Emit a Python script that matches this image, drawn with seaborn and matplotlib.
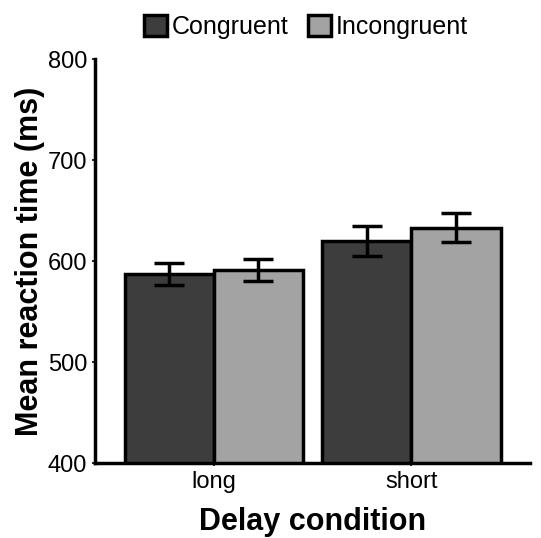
import matplotlib
matplotlib.use("Agg")
import matplotlib.pyplot as plt
import seaborn as sns
import pandas as pd
import numpy as np

delay = ["long", "long", "short", "short"]
congruency = ["Congruent", "Incongruent", "Congruent", "Incongruent"]
mean_rt = [587, 591, 620, 633]
err_rt = [11, 11, 14.5, 14.5]
hue_order = ["Congruent", "Incongruent"]
palette = {"Congruent": "#3d3d3d", "Incongruent": "#a3a3a3"}

df = pd.DataFrame({"delay": delay, "cond": congruency, "rt": mean_rt, "err": err_rt})

sns.set_theme(style="white")
plt.rcParams['font.family'] = ['Liberation Sans', 'DejaVu Sans']
plt.rcParams['text.color'] = 'black'

fig = plt.figure(figsize=(5.41, 5.38), dpi=100)
ax = fig.add_axes([0.1756, 0.1394, 0.8044, 0.7506])

sns.barplot(data=df, x="delay", y="rt", hue="cond", hue_order=hue_order,
            order=["long", "short"], palette=palette, errorbar=None,
            width=0.9, edgecolor="black", linewidth=2.5, ax=ax, saturation=1)

# error bars at bar centers
bars = [p for p in ax.patches if p.get_height() > 0][:4]
lookup = {(r.delay, r.cond): (r.rt, r.err) for r in df.itertuples()}
keys = [("long", "Congruent"), ("short", "Congruent"), ("long", "Incongruent"), ("short", "Incongruent")]
for p, k in zip(bars, keys):
    m, e = lookup[k]
    xc = p.get_x() + p.get_width() / 2
    ax.errorbar(xc, m, yerr=e, fmt="none", ecolor="black", elinewidth=2.5,
                capsize=11, capthick=2.5, zorder=5)

ax.set_ylim(400, 800)
ax.set_xlim(-0.6, 1.6)
ax.set_yticks([400, 500, 600, 700, 800])
ax.set_xlabel("Delay condition", fontsize=22, fontweight="bold", color="black", labelpad=10)
ax.set_ylabel("Mean reaction time (ms)", fontsize=22, fontweight="bold", color="black", labelpad=2)
ax.tick_params(axis="both", labelsize=17, colors="black", length=2.5, width=1.2, direction="out",
               bottom=True, left=True, pad=3, labelcolor="black")
for s in ["top", "right"]:
    ax.spines[s].set_visible(False)
for s in ["left", "bottom"]:
    ax.spines[s].set_linewidth(2.5)
    ax.spines[s].set_color("black")

leg = ax.legend(loc="lower center", bbox_to_anchor=(0.485, 1.025), ncol=2, frameon=False,
                fontsize=18, handlelength=0.9, handleheight=0.9, handletextpad=0.2,
                columnspacing=0.8, borderaxespad=0)
for t in leg.get_texts():
    t.set_color("black")
for h in leg.legend_handles:
    h.set_linewidth(2.5)
    h.set_edgecolor("black")

fig.savefig("out.png", dpi=100)
